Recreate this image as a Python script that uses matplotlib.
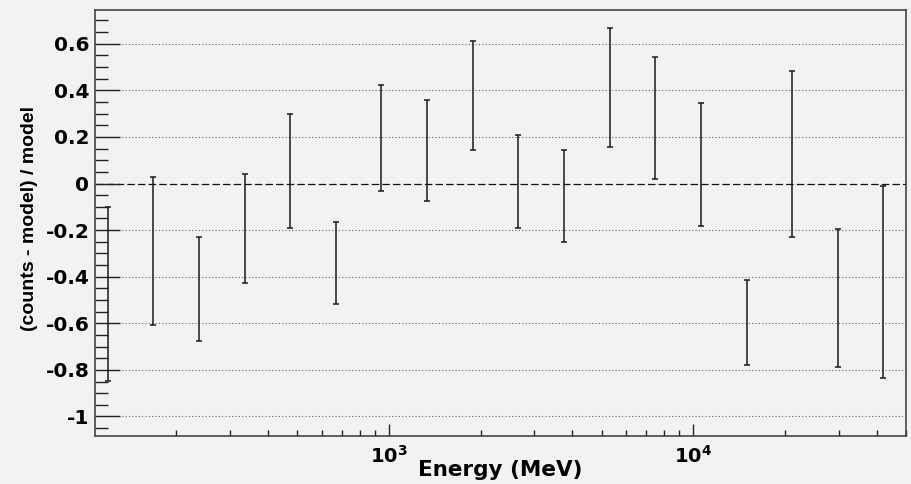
import numpy as np
import matplotlib.pyplot as plt
from matplotlib.ticker import LogLocator, MultipleLocator, FuncFormatter, NullFormatter

# Energy bin centres (MeV) and residuals (counts - model) / model
energy = [118.9, 167.9, 237.1, 335.0, 473.2, 668.3, 944.1, 1333.5, 1883.6,
          2660.7, 3758.4, 5308.8, 7498.9, 10592.5, 14962.4, 21134.9, 29853.8, 42169.7]
resid = [-0.473, -0.291, -0.453, -0.191, 0.054, -0.341, 0.196, 0.142, 0.379,
         0.010, -0.055, 0.412, 0.281, 0.083, -0.596, 0.127, -0.490, -0.421]
resid_err = [0.373, 0.317, 0.225, 0.234, 0.243, 0.176, 0.228, 0.215, 0.233,
             0.199, 0.197, 0.254, 0.262, 0.264, 0.183, 0.358, 0.296, 0.412]

grid_levels = [-1.0, -0.8, -0.6, -0.4, -0.2, 0.2, 0.4, 0.6]

bg = '#f2f2f2'
plt.rcParams['font.family'] = ['DejaVu Sans']
plt.rcParams['font.weight'] = 'bold'

fig = plt.figure(figsize=(9.12, 4.84), dpi=100, facecolor=bg)
ax = fig.add_axes([95/912, 1 - 436.3/484, 811/912, 426.3/484])
ax.set_facecolor(bg)

ax.set_xscale('log')
ax.set_xlim(108, 50000)
ax.set_ylim(-1.085, 0.745)

# horizontal grid + zero line
for g in grid_levels:
    ax.axhline(g, color='#666666', lw=0.8, ls=(0, (1, 2)), zorder=1)
ax.axhline(0, color='#111111', lw=0.9, ls=(0, (6, 2.5)), zorder=1)

ax.errorbar(energy, resid, yerr=resid_err, fmt='none', ecolor='#1a1a1a',
            elinewidth=1.1, capsize=2.0, capthick=1.1, zorder=3)

# axis ticks, ROOT style (inside)
ax.yaxis.set_major_locator(MultipleLocator(0.2))
ax.yaxis.set_minor_locator(MultipleLocator(0.05))
ax.yaxis.set_major_formatter(FuncFormatter(lambda v, p: '0' if abs(v) < 1e-9 else ('%g' % round(v, 2))))
ax.xaxis.set_major_locator(LogLocator(base=10))
ax.xaxis.set_minor_locator(LogLocator(base=10, subs=np.arange(2, 10)))
ax.xaxis.set_major_formatter(FuncFormatter(lambda v, p: r'$\mathbf{10^{%d}}$' % round(np.log10(v))))
ax.xaxis.set_minor_formatter(NullFormatter())

ax.tick_params(axis='y', which='major', direction='in', length=18, width=1.0,
               color='#222222', labelsize=14.5, pad=4, right=False)
ax.tick_params(axis='y', which='minor', direction='in', length=9.5, width=1.0,
               color='#222222', right=False)
ax.tick_params(axis='x', which='major', direction='in', length=8.5, width=1.0,
               color='#222222', labelsize=14, pad=6, top=False)
ax.tick_params(axis='x', which='minor', direction='in', length=4.3, width=1.0,
               color='#222222', top=False)

for s in ax.spines.values():
    s.set_color('#444444')
    s.set_linewidth(1.2)

ax.set_xlabel('Energy (MeV)', fontsize=15.5, fontweight='bold', va='top')
ax.xaxis.set_label_coords(0.5, -0.055)
ax.set_ylabel('(counts - model) / model', fontsize=14, fontweight='bold',
              family=['Liberation Sans', 'DejaVu Sans'], va='center')
ax.yaxis.set_label_coords(-0.081, 0.51)

fig.savefig('out.png', dpi=100, facecolor=bg)
